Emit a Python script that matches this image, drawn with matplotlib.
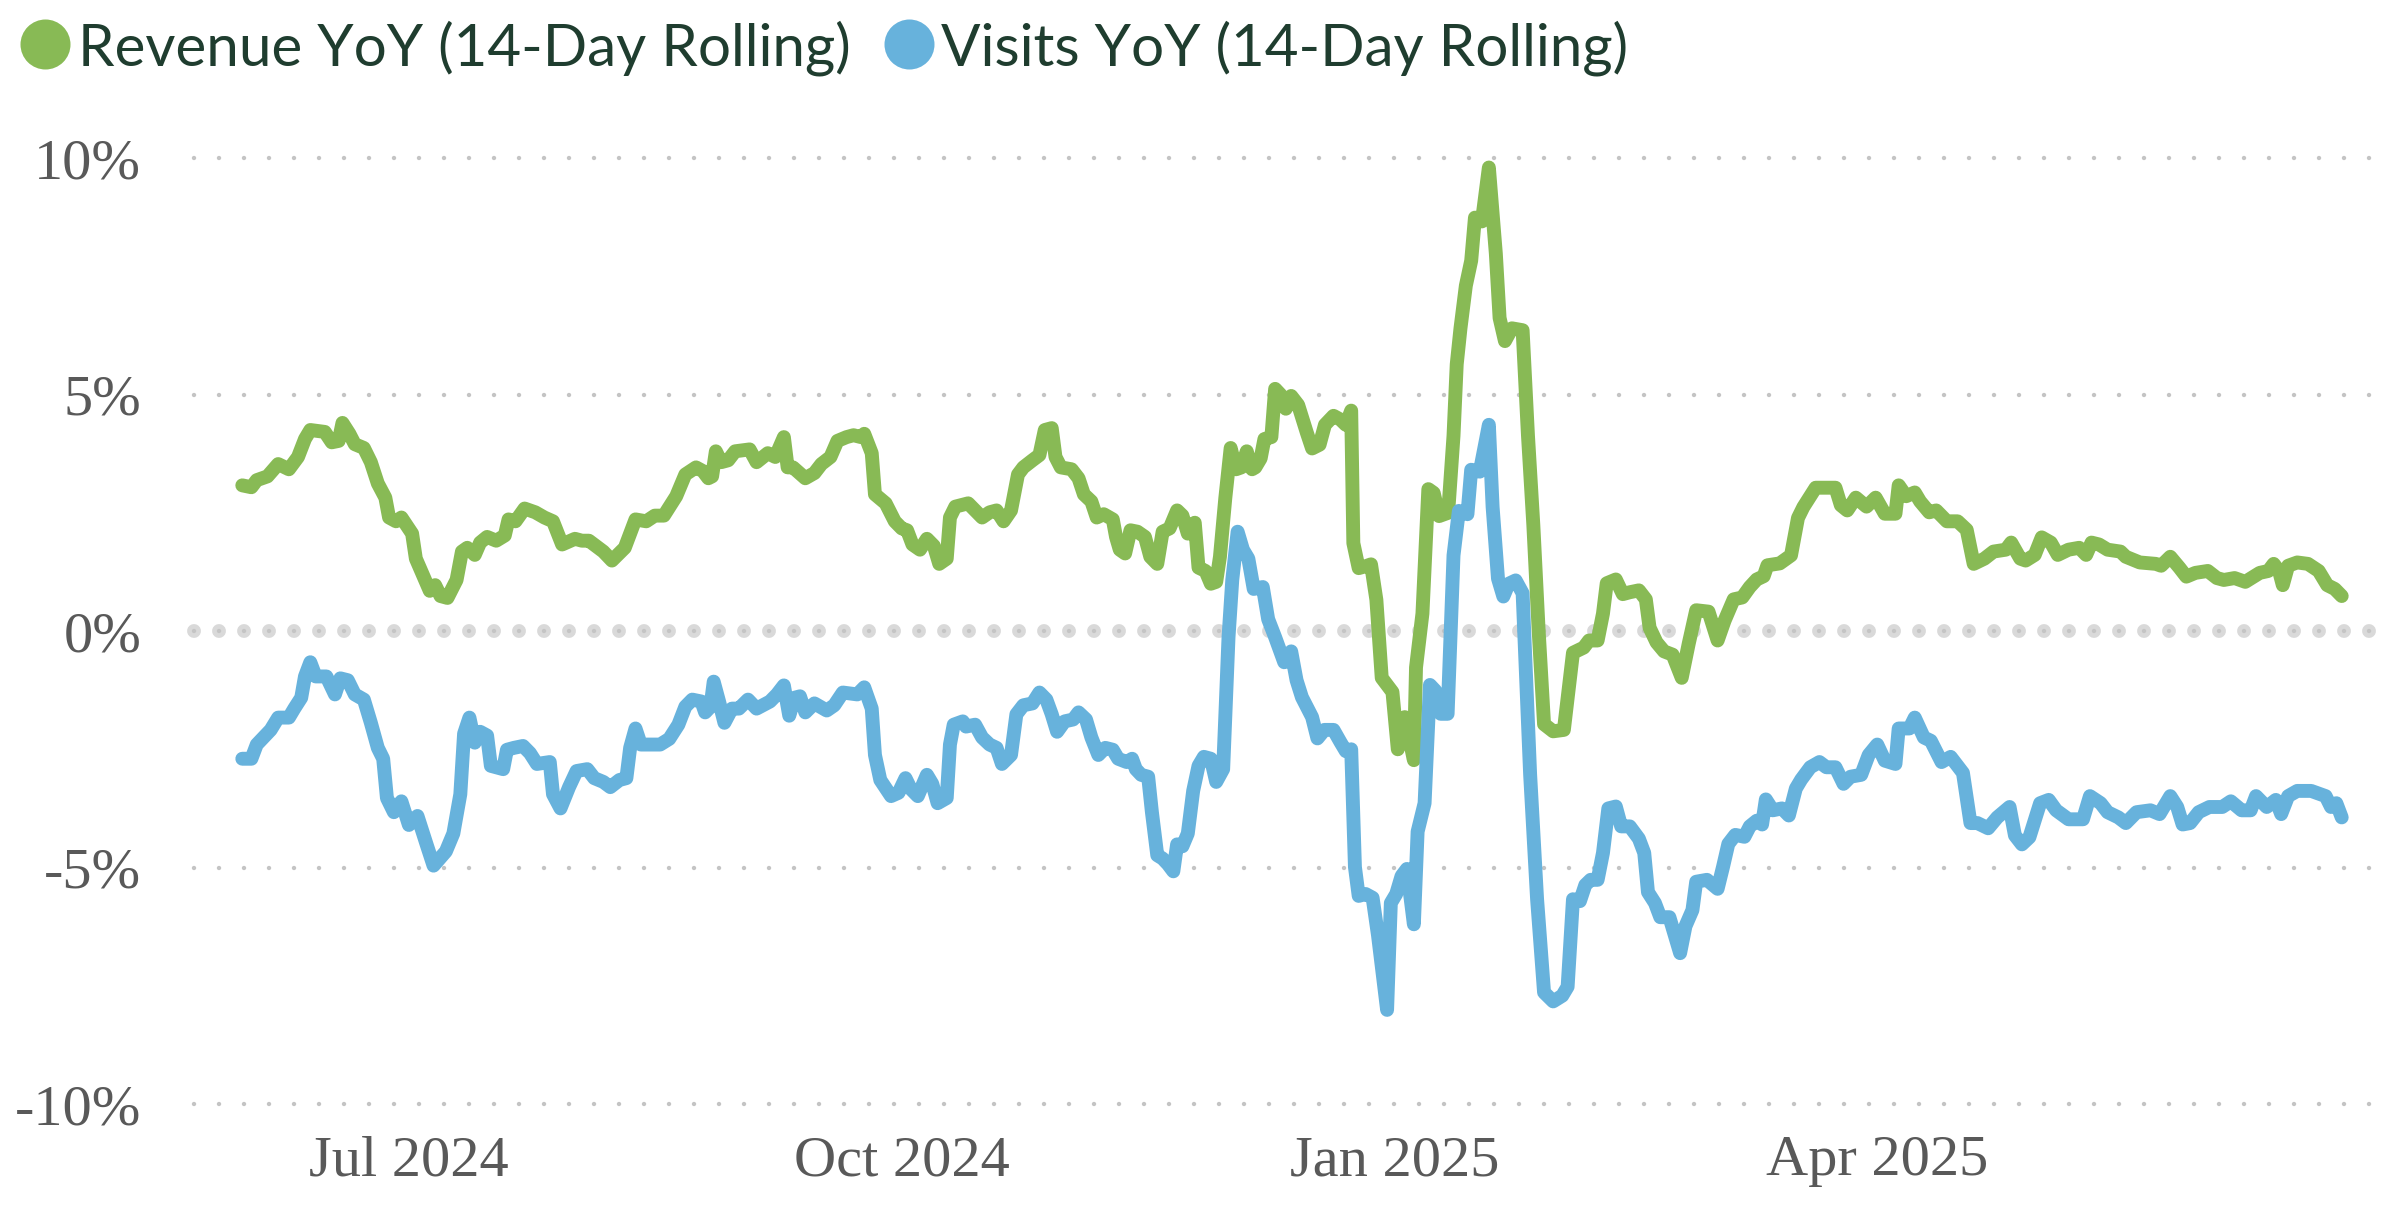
import numpy as np
import pandas as pd
import matplotlib
matplotlib.use("Agg")
import matplotlib.pyplot as plt
import matplotlib.dates as mdates
from matplotlib.lines import Line2D
from matplotlib.ticker import FuncFormatter

################################################
# data (x = days after 2024-07-01, y = percent)
################################################
START = "2024-07-01"

rev_days = [-31.1, -29.4, -28.4, -26.4, -24.4, -22.4, -20.7, -19.4, -18.4, -15.7,
            -14.4, -13.1, -12.4, -11.1, -10.1, -8.4, -7.1, -5.8, -4.4, -3.7,
            -2.4, -1.4, 0.6, 1.3, 2.6, 3.9, 4.9, 5.9, 7.2, 8.9,
            9.9, 10.9, 12.3, 13.3, 14.6, 16.3, 17.9, 18.6, 19.9, 21.6,
            23.6, 25.3, 26.9, 28.6, 31.0, 32.3, 33.6, 36.3, 37.9, 40.3,
            42.3, 44.3, 45.9, 47.6, 49.9, 51.6, 53.6, 54.9, 55.9, 56.6,
            57.3, 58.3, 59.6, 60.9, 63.6, 64.9, 67.0, 68.4, 70.0, 70.7,
            71.7, 74.0, 75.7, 77.0, 78.7, 80.0, 81.7, 83.0, 84.4, 85.0,
            86.4, 87.0, 89.0, 90.7, 92.0, 93.0, 94.0, 95.4, 96.7, 98.0,
            99.0, 100.4, 101.0, 102.0, 104.4, 105.7, 107.0, 108.4, 109.7, 111.0,
            112.4, 113.7, 114.7, 116.4, 117.7, 118.7, 120.0, 120.7, 121.7, 123.7,
            125.0, 126.0, 127.4, 128.4, 129.7, 131.4, 132.0, 132.7, 133.7, 134.7,
            136.0, 137.4, 138.4, 139.7, 140.7, 142.0, 143.4, 144.4, 145.4, 146.7,
            147.4, 148.7, 149.7, 150.7, 151.4, 152.4, 153.4, 154.4, 155.4, 156.4,
            157.4, 158.0, 159.0, 159.7, 161.0, 161.7, 162.7, 163.7, 164.7, 166.0,
            167.6, 168.6, 170.0, 171.0, 172.6, 173.9, 174.9, 175.9, 176.3, 177.3,
            178.6, 179.6, 180.6, 181.6, 183.6, 184.6, 185.9, 187.6, 188.0, 189.2,
            190.3, 191.3, 192.3, 194.0, 195.0, 195.6, 196.3, 197.3, 198.3, 199.0,
            200.3, 201.6, 202.9, 203.6, 204.6, 205.9, 207.9, 208.9, 209.9, 210.9,
            211.9, 213.6, 215.6, 217.3, 219.3, 220.3, 221.9, 222.9, 223.6, 225.3,
            226.6, 227.9, 229.6, 230.9, 231.6, 232.9, 234.3, 235.9, 237.6, 238.9,
            240.3, 242.6, 244.3, 245.6, 247.3, 248.9, 250.3, 251.6, 252.9, 253.6,
            255.9, 258.0, 259.3, 260.3, 261.6, 262.6, 266.3, 267.3, 268.5, 270.1,
            272.1, 273.8, 275.5, 277.5, 278.1, 279.5, 281.1, 282.1, 283.8, 285.1,
            287.1, 289.1, 290.8, 292.1, 294.1, 295.8, 298.1, 299.1, 300.8, 301.8,
            303.5, 304.8, 306.5, 307.8, 309.8, 311.8, 313.1, 314.1, 315.5, 317.1,
            319.5, 320.5, 323.1, 326.1, 327.1, 328.8, 330.5, 331.8, 333.5, 335.8,
            337.5, 338.8, 340.8, 342.8, 345.5, 347.1, 348.1, 349.1, 349.8, 350.8,
            352.5, 354.5, 356.5, 358.1, 359.5, 360.8]
rev_vals = [3.08, 3.04, 3.19, 3.27, 3.53, 3.42, 3.68, 4.06, 4.25, 4.21,
            3.99, 4.02, 4.40, 4.17, 3.95, 3.87, 3.57, 3.12, 2.82, 2.40,
            2.32, 2.40, 2.06, 1.53, 1.19, 0.85, 0.97, 0.74, 0.70, 1.08,
            1.68, 1.76, 1.61, 1.87, 1.99, 1.91, 2.02, 2.36, 2.32, 2.59,
            2.51, 2.40, 2.32, 1.83, 1.95, 1.91, 1.91, 1.68, 1.49, 1.76,
            2.36, 2.32, 2.44, 2.44, 2.85, 3.31, 3.46, 3.38, 3.23, 3.27,
            3.80, 3.57, 3.61, 3.80, 3.84, 3.57, 3.76, 3.68, 4.10, 3.46,
            3.46, 3.23, 3.34, 3.53, 3.68, 4.02, 4.10, 4.14, 4.10, 4.17,
            3.76, 2.89, 2.70, 2.32, 2.17, 2.13, 1.83, 1.72, 1.95, 1.80,
            1.42, 1.53, 2.40, 2.63, 2.70, 2.55, 2.40, 2.51, 2.55, 2.32,
            2.55, 3.31, 3.46, 3.61, 3.72, 4.25, 4.29, 3.68, 3.46, 3.42,
            3.23, 2.89, 2.74, 2.40, 2.47, 2.36, 1.99, 1.72, 1.64, 2.13,
            2.10, 1.99, 1.57, 1.42, 2.10, 2.17, 2.55, 2.44, 2.06, 2.29,
            1.34, 1.27, 1.00, 1.04, 1.57, 2.81, 3.87, 3.42, 3.46, 3.80,
            3.42, 3.46, 3.65, 4.06, 4.10, 5.12, 5.00, 4.70, 4.97, 4.78,
            4.20, 3.86, 3.94, 4.36, 4.55, 4.47, 4.36, 4.66, 1.86, 1.33,
            1.37, 1.41, 0.66, -0.99, -1.29, -2.50, -1.82, -2.73, -0.77, 0.37,
            3.00, 2.92, 2.43, 2.50, 4.13, 5.64, 6.40, 7.30, 7.83, 8.74,
            8.66, 9.80, 7.98, 6.62, 6.13, 6.40, 6.36, 4.13, 2.24, -0.01,
            -1.97, -2.12, -2.09, -0.46, -0.35, -0.20, -0.20, 0.37, 1.01, 1.09,
            0.78, 0.82, 0.86, 0.67, 0.07, -0.24, -0.43, -0.50, -0.99, -0.27,
            0.44, 0.41, -0.20, 0.22, 0.67, 0.71, 0.93, 1.09, 1.16, 1.39,
            1.43, 1.60, 2.39, 2.62, 2.85, 3.03, 3.03, 2.66, 2.55, 2.82,
            2.63, 2.82, 2.48, 2.48, 3.08, 2.85, 2.93, 2.74, 2.51, 2.55,
            2.32, 2.32, 2.14, 1.42, 1.53, 1.68, 1.72, 1.87, 1.53, 1.49,
            1.61, 1.98, 1.87, 1.61, 1.72, 1.76, 1.61, 1.87, 1.83, 1.72,
            1.68, 1.57, 1.45, 1.42, 1.38, 1.57, 1.34, 1.15, 1.23, 1.27,
            1.12, 1.08, 1.12, 1.04, 1.23, 1.27, 1.42, 1.27, 0.97, 1.38,
            1.45, 1.42, 1.27, 0.97, 0.89, 0.74]

vis_days = [-31.1, -29.4, -28.4, -26.8, -25.8, -24.4, -22.4, -21.4, -20.1, -19.4,
            -18.4, -17.4, -15.4, -13.8, -12.8, -11.4, -10.1, -8.4, -7.1, -5.8,
            -4.8, -4.1, -2.8, -1.4, 0.0, 1.6, 3.3, 4.6, 6.9, 8.3,
            9.6, 10.3, 11.3, 12.3, 13.3, 14.6, 15.3, 17.6, 18.3, 19.6,
            21.3, 22.6, 23.9, 26.3, 26.9, 28.3, 29.9, 31.3, 33.3, 34.6,
            36.3, 37.6, 39.3, 40.6, 41.3, 42.3, 43.3, 44.9, 46.9, 48.6,
            50.3, 51.6, 52.9, 54.6, 55.3, 56.3, 56.9, 57.9, 58.9, 60.3,
            61.6, 63.3, 64.9, 67.4, 68.7, 70.0, 71.0, 72.0, 73.0, 74.0,
            75.7, 78.0, 79.4, 81.0, 83.7, 85.0, 86.4, 87.0, 88.0, 90.0,
            91.4, 92.7, 93.7, 95.0, 96.7, 97.7, 98.7, 100.4, 101.0, 101.7,
            103.4, 104.0, 105.7, 107.0, 108.4, 109.7, 110.7, 112.4, 113.4, 114.7,
            116.4, 117.7, 119.0, 120.0, 121.0, 122.4, 124.0, 125.0, 126.4, 127.4,
            128.7, 130.0, 131.4, 132.4, 134.0, 135.0, 135.7, 136.7, 138.0, 138.7,
            139.7, 140.7, 141.7, 142.7, 143.4, 144.4, 145.4, 146.4, 147.4, 148.4,
            149.7, 150.7, 152.0, 153.0, 153.7, 154.7, 155.7, 156.7, 157.7, 159.4,
            160.4, 161.7, 163.4, 164.7, 165.7, 166.7, 168.6, 169.6, 170.9, 172.6,
            173.9, 174.9, 175.9, 176.6, 177.3, 178.6, 179.9, 180.9, 182.6, 183.3,
            184.3, 185.3, 186.3, 187.6, 188.3, 189.6, 190.6, 191.6, 192.6, 193.9,
            195.0, 196.0, 197.6, 198.3, 199.9, 201.6, 202.3, 203.3, 204.3, 205.3,
            206.6, 207.9, 209.3, 210.6, 211.9, 213.6, 215.3, 216.3, 217.3, 218.6,
            219.6, 220.6, 221.9, 222.9, 223.9, 225.3, 226.3, 227.9, 229.6, 230.6,
            231.3, 232.6, 233.6, 235.3, 236.3, 237.3, 238.3, 239.6, 240.3, 242.3,
            244.3, 245.3, 246.3, 247.6, 249.3, 250.3, 251.6, 252.6, 253.3, 254.6,
            256.3, 257.6, 258.9, 259.9, 261.6, 263.3, 264.6, 266.3, 267.8, 269.1,
            271.1, 272.5, 274.1, 275.5, 277.5, 278.1, 280.1, 281.1, 282.8, 284.1,
            286.1, 287.8, 290.1, 291.5, 292.8, 294.8, 296.5, 298.8, 299.8, 301.1,
            302.5, 304.5, 306.1, 307.5, 309.8, 312.5, 313.8, 315.8, 317.1, 319.1,
            320.5, 322.5, 325.1, 326.8, 328.8, 330.1, 331.1, 332.5, 334.1, 336.1,
            338.5, 340.1, 342.1, 343.8, 344.8, 346.8, 348.5, 349.5, 350.8, 352.5,
            355.1, 357.8, 358.8, 359.8, 360.8]
vis_vals = [-2.70, -2.70, -2.40, -2.21, -2.09, -1.83, -1.83, -1.64, -1.41, -0.96,
            -0.66, -0.96, -0.96, -1.34, -1.00, -1.04, -1.34, -1.45, -1.94, -2.47,
            -2.70, -3.53, -3.83, -3.60, -4.10, -3.91, -4.51, -4.96, -4.66, -4.28,
            -3.45, -2.17, -1.83, -2.36, -2.13, -2.21, -2.85, -2.92, -2.51, -2.47,
            -2.43, -2.58, -2.81, -2.77, -3.45, -3.75, -3.30, -2.96, -2.92, -3.11,
            -3.19, -3.30, -3.15, -3.11, -2.47, -2.06, -2.40, -2.40, -2.40, -2.28,
            -1.98, -1.60, -1.45, -1.49, -1.72, -1.60, -1.07, -1.49, -1.94, -1.64,
            -1.64, -1.45, -1.64, -1.49, -1.34, -1.15, -1.79, -1.41, -1.38, -1.72,
            -1.53, -1.68, -1.57, -1.30, -1.34, -1.19, -1.64, -2.62, -3.15, -3.49,
            -3.42, -3.11, -3.34, -3.49, -3.04, -3.23, -3.64, -3.53, -2.40, -1.98,
            -1.91, -2.02, -1.98, -2.25, -2.40, -2.47, -2.81, -2.62, -1.76, -1.57,
            -1.53, -1.30, -1.45, -1.76, -2.13, -1.91, -1.87, -1.72, -1.87, -2.25,
            -2.62, -2.47, -2.51, -2.70, -2.77, -2.70, -2.92, -3.04, -3.08, -3.83,
            -4.74, -4.81, -4.93, -5.08, -4.51, -4.55, -4.28, -3.38, -2.85, -2.66,
            -2.70, -3.19, -2.92, -0.13, 1.08, 2.10, 1.72, 1.53, 0.89, 0.93,
            0.25, -0.13, -0.66, -0.43, -1.04, -1.40, -1.82, -2.27, -2.09, -2.09,
            -2.35, -2.54, -2.50, -4.99, -5.60, -5.56, -5.64, -6.43, -8.01, -5.75,
            -5.56, -5.18, -5.03, -6.20, -4.24, -3.64, -1.14, -1.26, -1.75, -1.75,
            1.60, 2.54, 2.47, 3.41, 3.37, 4.36, 2.62, 1.11, 0.73, 1.00,
            1.07, 0.80, -3.03, -5.67, -7.64, -7.83, -7.71, -7.52, -5.67, -5.71,
            -5.37, -5.26, -5.26, -4.69, -3.75, -3.71, -4.13, -4.13, -4.39, -4.69,
            -5.52, -5.75, -6.05, -6.05, -6.43, -6.81, -6.24, -5.90, -5.30, -5.26,
            -5.45, -4.99, -4.50, -4.31, -4.35, -4.13, -4.01, -4.09, -3.56, -3.79,
            -3.75, -3.90, -3.33, -3.14, -2.88, -2.77, -2.88, -2.88, -3.23, -3.08,
            -3.04, -2.62, -2.40, -2.74, -2.81, -2.06, -2.06, -1.83, -2.25, -2.32,
            -2.77, -2.66, -3.00, -4.06, -4.06, -4.17, -3.94, -3.72, -4.32, -4.51,
            -4.36, -3.64, -3.57, -3.79, -3.98, -3.98, -3.49, -3.64, -3.83, -3.94,
            -4.06, -3.83, -3.79, -3.87, -3.49, -3.72, -4.09, -4.06, -3.83, -3.72,
            -3.72, -3.60, -3.79, -3.79, -3.49, -3.72, -3.57, -3.87, -3.49, -3.38,
            -3.38, -3.49, -3.72, -3.64, -3.94]

series_names = ["Revenue YoY (14-Day Rolling)", "Visits YoY (14-Day Rolling)"]
series_colors = ["#88BA55", "#67B2DC"]

y_ticks = [-10, -5, 0, 5, 10]
x_ticks = ["2024-07-01", "2024-10-01", "2025-01-01", "2025-04-01"]

################################################
def toDates(days):
    return pd.Timestamp(START) + pd.to_timedelta(np.array(days), unit="D")

################################################
def addGrid(axis):
    # dotted gridlines, absolute dash lengths
    for v in y_ticks:
        if v == 0:
            axis.axhline(v, color="#d9d9d9", linewidth=10, linestyle=(0, (0.01, 17.99)),
                         dash_capstyle="round", zorder=0.5, clip_on=False)
        axis.axhline(v, color="#c4c4c4", linewidth=3.2, linestyle=(0, (0.01, 17.99)),
                     dash_capstyle="round", zorder=0.6, clip_on=False)

################################################
def addLegend(fig):
    xs_dot = [45 / 2402, 909 / 2402]
    xs_txt = [78 / 2402, 941 / 2402]
    for name, color, xd, xt in zip(series_names, series_colors, xs_dot, xs_txt):
        fig.add_artist(Line2D([xd], [1 - 44 / 1214], marker="o", markersize=36,
                              markeredgewidth=0, color=color, transform=fig.transFigure))
        fig.text(xt, 1 - 65 / 1214, name, fontsize=42, family="Lato",
                 color="#1f3d2f", va="baseline", ha="left")

################################################
def makePlot():
    plt.rcParams["lines.scale_dashes"] = False

    fig = plt.figure(figsize=(24.02, 12.14), dpi=100)
    ax = fig.add_axes([194 / 2402, 0.0750, (2390 - 194) / 2402, 0.8854 - 0.0750])

    addGrid(ax)

    ax.plot(toDates(rev_days), rev_vals, color=series_colors[0], linewidth=10,
            solid_joinstyle="round", solid_capstyle="round", zorder=2)
    ax.plot(toDates(vis_days), vis_vals, color=series_colors[1], linewidth=10,
            solid_joinstyle="round", solid_capstyle="round", zorder=3)

    ax.margins(x=0.023)
    ax.set_ylim(-10.4, 10.4)

    ax.set_yticks(y_ticks)
    ax.yaxis.set_major_formatter(FuncFormatter(lambda v, p: f"{v:.0f}%"))
    ax.set_xticks(pd.to_datetime(x_ticks))
    ax.xaxis.set_major_formatter(mdates.DateFormatter("%b %Y"))

    ax.tick_params(axis="both", length=0, labelsize=42, labelcolor="#595959")
    ax.tick_params(axis="y", pad=38)
    ax.tick_params(axis="x", pad=9)
    for lab in ax.get_xticklabels() + ax.get_yticklabels():
        lab.set_family("Liberation Serif")

    for s in ax.spines.values():
        s.set_visible(False)

    addLegend(fig)

    fig.savefig("out.png", dpi=100, facecolor="white")

################################################
if __name__ == "__main__":
    makePlot()
